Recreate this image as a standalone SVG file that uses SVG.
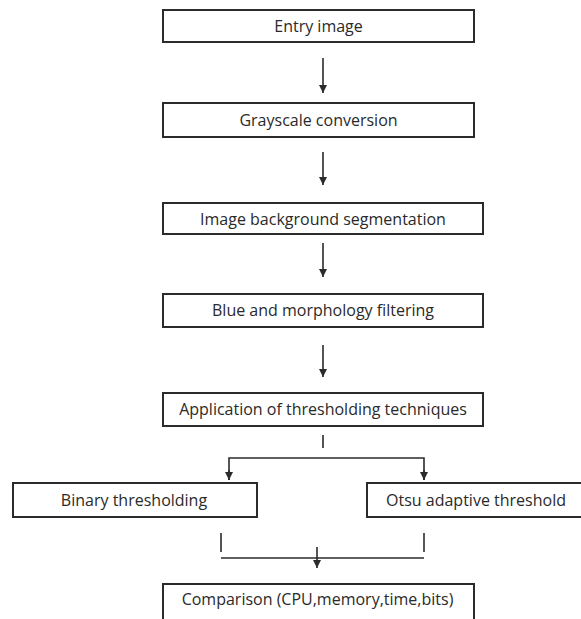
<svg xmlns="http://www.w3.org/2000/svg" width="581" height="619" viewBox="0 0 581 619">
<style>
.box{fill:#fff;stroke:#2b2b2b;stroke-width:2}
.lbl{font-family:"Open Sans","Liberation Sans",sans-serif;font-size:16px;fill:#2a2a2a;text-anchor:middle}
.ln{stroke:#2b2b2b;stroke-width:1.6;fill:none}
</style>
<defs>
<marker id="ah" viewBox="0 0 8 10" refX="8" refY="5" markerWidth="8" markerHeight="10" markerUnits="userSpaceOnUse" orient="auto">
<path d="M0,1 L8,5 L0,9 Z" fill="#2b2b2b"/>
</marker>
</defs>
<rect width="581" height="619" fill="#fff"/>
<g id="connectors">
<line class="ln" x1="323" y1="58" x2="323" y2="93" marker-end="url(#ah)"/>
<line class="ln" x1="323" y1="152" x2="323" y2="185" marker-end="url(#ah)"/>
<line class="ln" x1="323" y1="243" x2="323" y2="277" marker-end="url(#ah)"/>
<line class="ln" x1="323" y1="345" x2="323" y2="377" marker-end="url(#ah)"/>
<line class="ln" x1="323" y1="435" x2="323" y2="448"/>
<polyline class="ln" points="229,480 229,458 424,458 424,480"/>
<line class="ln" x1="229" y1="470" x2="229" y2="480" marker-end="url(#ah)"/>
<line class="ln" x1="424" y1="470" x2="424" y2="480" marker-end="url(#ah)"/>
<line class="ln" x1="221" y1="533" x2="221" y2="552"/>
<line class="ln" x1="424" y1="533" x2="424" y2="552"/>
<line class="ln" x1="221" y1="558" x2="424" y2="558"/>
<line class="ln" x1="317" y1="547" x2="317" y2="568" marker-end="url(#ah)"/>
</g>
<g id="n1"><rect class="box" x="163" y="10" width="311" height="32"/><text class="lbl" x="318.5" y="32">Entry image</text></g>
<g id="n2"><rect class="box" x="163" y="103" width="311" height="34"/><text class="lbl" x="318.5" y="126">Grayscale conversion</text></g>
<g id="n3"><rect class="box" x="163" y="203" width="320" height="31"/><text class="lbl" x="323" y="225">Image background segmentation</text></g>
<g id="n4"><rect class="box" x="163" y="294" width="320" height="33"/><text class="lbl" x="323" y="316">Blue and morphology filtering</text></g>
<g id="n5"><rect class="box" x="163" y="393" width="320" height="33"/><text class="lbl" x="323" y="415">Application of thresholding techniques</text></g>
<g id="n6"><rect class="box" x="13" y="483" width="244" height="34"/><text class="lbl" x="134" y="506">Binary thresholding</text></g>
<g id="n7"><rect class="box" x="367" y="483" width="218" height="34"/><text class="lbl" x="476" y="506">Otsu adaptive threshold</text></g>
<g id="n8"><rect class="box" x="163" y="584" width="311" height="40"/><text class="lbl" x="317.5" y="605">Comparison (CPU,memory,time,bits)</text></g>
</svg>
